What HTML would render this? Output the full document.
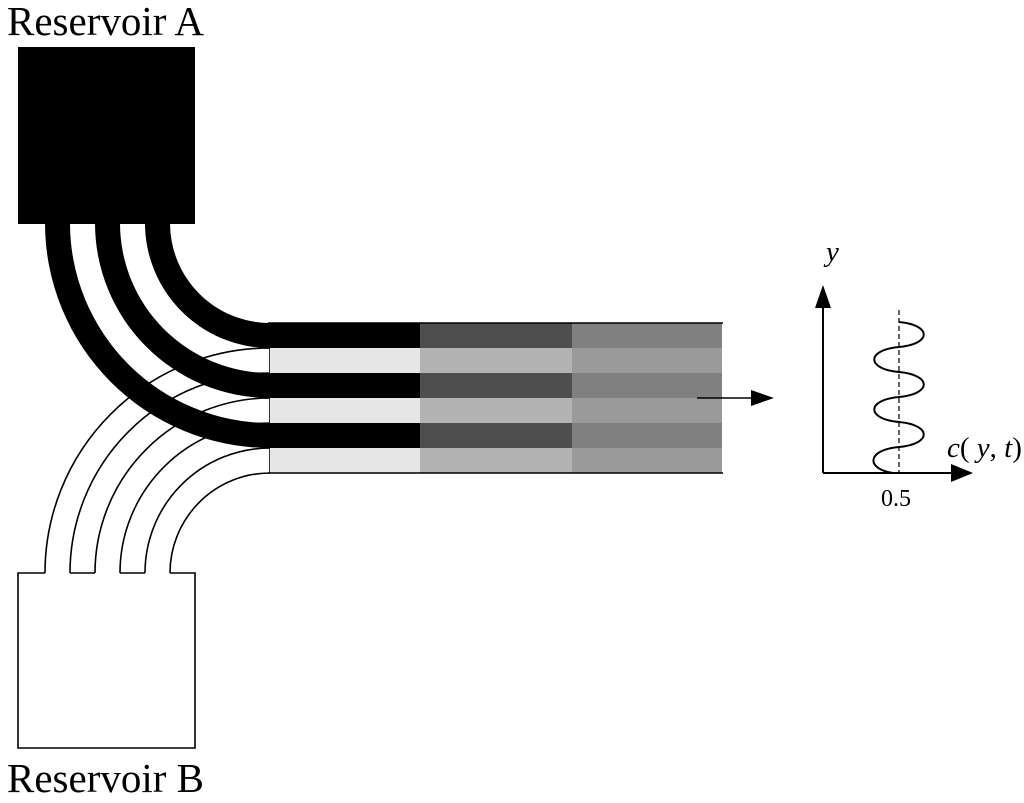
<!DOCTYPE html>
<html><head><style>html,body{margin:0;padding:0;background:#fff}svg{display:block}</style></head>
<body>
<svg width="1024" height="803" viewBox="0 0 1024 803" xmlns="http://www.w3.org/2000/svg">
<rect width="1024" height="803" fill="#fff"/>
<g fill="#fff" stroke="#000" stroke-width="1.6">
<path d="M45 573 A225 225 0 0 1 270 348 L270 373 A200 200 0 0 0 70 573"/>
<path d="M95 573 A175 175 0 0 1 270 398 L270 423 A150 150 0 0 0 120 573"/>
<path d="M145 573 A125 125 0 0 1 270 448 L270 473 A100 100 0 0 0 170 573"/>
<path d="M45 573 L18 573 L18 748 L195 748 L195 573 L170 573 M70 573 L95 573 M120 573 L145 573" fill="none"/>
</g>
<rect x="18" y="47" width="177" height="177" fill="#000"/>
<g fill="#000">
<path d="M45 222 A225 225 0 0 0 270 448 L270 423 A200 200 0 0 1 70 222 Z"/>
<path d="M95 222 A175 175 0 0 0 270 398 L270 373 A150 150 0 0 1 120 222 Z"/>
<path d="M145 222 A125 125 0 0 0 270 348 L270 323 A100 100 0 0 1 170 222 Z"/>
</g>
<g>
<rect x="268" y="323" width="152" height="25" fill="#000"/>
<rect x="270" y="348" width="150" height="25" fill="#e6e6e6"/>
<rect x="268" y="373" width="152" height="25" fill="#000"/>
<rect x="270" y="398" width="150" height="25" fill="#e6e6e6"/>
<rect x="268" y="423" width="152" height="25" fill="#000"/>
<rect x="270" y="448" width="150" height="25" fill="#e6e6e6"/>
<rect x="420" y="323" width="152" height="25" fill="#4e4e4e"/>
<rect x="420" y="348" width="152" height="25" fill="#b3b3b3"/>
<rect x="420" y="373" width="152" height="25" fill="#4e4e4e"/>
<rect x="420" y="398" width="152" height="25" fill="#b3b3b3"/>
<rect x="420" y="423" width="152" height="25" fill="#4e4e4e"/>
<rect x="420" y="448" width="152" height="25" fill="#b3b3b3"/>
<rect x="572" y="323" width="150" height="25" fill="#808080"/>
<rect x="572" y="348" width="150" height="25" fill="#9a9a9a"/>
<rect x="572" y="373" width="150" height="25" fill="#808080"/>
<rect x="572" y="398" width="150" height="25" fill="#9a9a9a"/>
<rect x="572" y="423" width="150" height="25" fill="#808080"/>
<rect x="572" y="448" width="150" height="25" fill="#9a9a9a"/>
</g>
<line x1="268" y1="323" x2="723" y2="323" stroke="#000" stroke-width="1.6"/>
<line x1="268" y1="473" x2="723" y2="473" stroke="#000" stroke-width="1.6"/>
<line x1="697" y1="398" x2="755" y2="398" stroke="#000" stroke-width="1.6"/>
<polygon points="751,390 774,398 751,406" fill="#000"/>
<line x1="823" y1="473" x2="823" y2="305" stroke="#000" stroke-width="2"/>
<polygon points="815,308 823,285 831,308" fill="#000"/>
<line x1="823" y1="473" x2="955" y2="473" stroke="#000" stroke-width="2"/>
<polygon points="951,464 973,473 951,482" fill="#000"/>
<line x1="899" y1="310" x2="899" y2="473" stroke="#000" stroke-width="1.2" stroke-dasharray="5,3"/>
<path d="M899 322 C932 325 932 344 899 347 C866 350 866 369 899 372 C932 375 932 394 899 397 C866 400 866 419 899 422 C932 425 932 444 899 447 C866 450 866 469 893 473" fill="none" stroke="#000" stroke-width="2"/>
<g font-family="Liberation Serif, serif" fill="#000">
<text x="7" y="35" font-size="41">Reservoir A</text>
<text x="7" y="792" font-size="41">Reservoir B</text>
<text x="826" y="261" font-size="29" font-style="italic">y</text>
<text x="947" y="457" font-size="29"><tspan font-style="italic">c</tspan>( <tspan font-style="italic">y</tspan>, <tspan font-style="italic">t</tspan>)</text>
<text x="881" y="506" font-size="24">0.5</text>
</g>
</svg>
</body></html>
